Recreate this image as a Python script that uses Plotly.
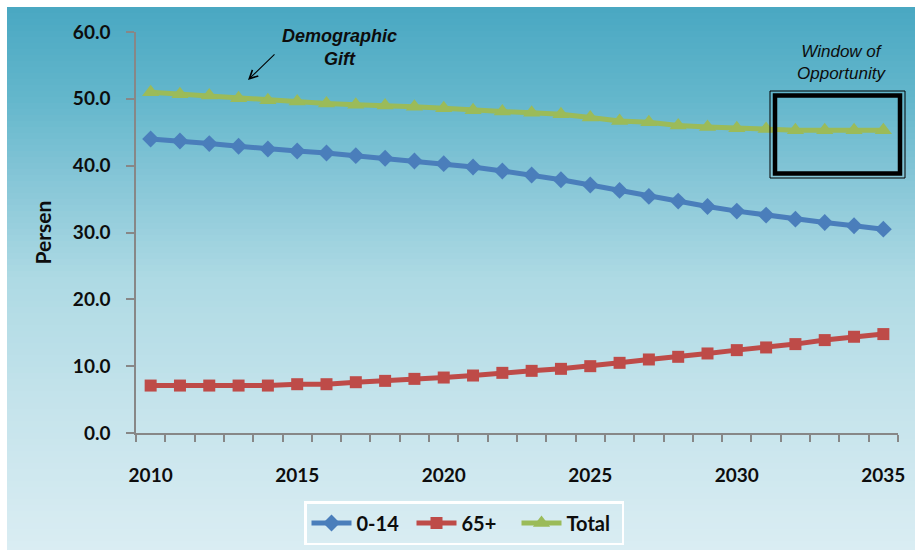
import plotly.graph_objects as go

# ---- data ------------------------------------------------------------------
years = list(range(2010, 2036))

age_0_14 = [44.0, 43.7, 43.3, 42.9, 42.5, 42.2, 41.9, 41.5, 41.1, 40.7, 40.3, 39.8, 39.2,
            38.6, 37.9, 37.1, 36.3, 35.4, 34.7, 33.9, 33.2, 32.6, 32.0, 31.5, 31.0, 30.5]
age_65_plus = [7.1, 7.1, 7.1, 7.1, 7.1, 7.3, 7.3, 7.6, 7.8, 8.1, 8.3, 8.6, 9.0,
               9.3, 9.6, 10.0, 10.5, 11.0, 11.4, 11.9, 12.4, 12.8, 13.3, 13.9, 14.4, 14.8]
total = [51.0, 50.7, 50.5, 50.1, 49.8, 49.6, 49.3, 49.1, 49.0, 48.8, 48.6, 48.3, 48.1,
         47.9, 47.7, 47.2, 46.7, 46.5, 46.0, 45.8, 45.6, 45.5, 45.3, 45.3, 45.3, 45.3]

y_ticks = [0, 10, 20, 30, 40, 50, 60]
x_label_years = [2010, 2015, 2020, 2025, 2030, 2035]

# ---- layout geometry (pixels) ----------------------------------------------
W, H = 915, 550
L, R, T, B = 136, 898, 32, 433          # plot-area edges
PW, PH = R - L, B - T


def px(xp):
    return (xp - L) / PW


def py(yp):
    return (B - yp) / PH


FONT = "Lato"
TXT = "#0d0d0d"
AXIS = "#878787"

fig = go.Figure()

series = [
    ("0-14", age_0_14, "#4a7ebb", "diamond", 13),
    ("65+", age_65_plus, "#be4b48", "square", 12),
    ("Total", total, "#9bbb59", "triangle-up", 15),
]
for name, vals, col, sym, size in series:
    fig.add_trace(go.Scatter(
        x=years, y=vals, name=name, mode="lines+markers",
        line=dict(color=col, width=5),
        marker=dict(symbol=sym, size=size, color=col),
    ))

# ---- vertical gradient background over the whole chart area -----------------
stops = [  # (pixel y, rgb)
    (7, (73, 168, 194)),
    (100, (100, 183, 204)),
    (180, (134, 198, 215)),
    (280, (174, 218, 228)),
    (400, (196, 227, 235)),
    (550, (218, 237, 243)),
]


def colour_at(yp):
    for (y0, c0), (y1, c1) in zip(stops[:-1], stops[1:]):
        if y0 <= yp <= y1:
            t = (yp - y0) / (y1 - y0)
            return tuple(round(a + (b - a) * t) for a, b in zip(c0, c1))
    return stops[-1][1]


shapes = []
band = 6
y = 7
while y < H:
    y2 = min(y + band, H)
    r, g, b = colour_at((y + y2) / 2)
    shapes.append(dict(
        type="rect", xref="paper", yref="paper", layer="below",
        x0=px(7), x1=px(W), y0=py(y2 + 0.5), y1=py(y),
        fillcolor=f"rgb({r},{g},{b})", line=dict(width=0),
    ))
    y = y2

# ---- "Window of Opportunity" double frame -----------------------------------
shapes.append(dict(type="rect", xref="paper", yref="paper",
                   x0=px(770), x1=px(905), y0=py(178), y1=py(91),
                   line=dict(color="black", width=1)))
shapes.append(dict(type="rect", xref="paper", yref="paper",
                   x0=px(775), x1=px(900), y0=py(173.5), y1=py(95.5),
                   line=dict(color="black", width=4.5)))

annotations = [
    dict(xref="paper", yref="paper", x=px(339), y=py(47), showarrow=False,
         xanchor="center", yanchor="middle",
         text="Demographic<br>Gift", align="center",
         font=dict(family="Liberation Sans", size=18, color=TXT, weight="bold", style="italic")),
    dict(xref="paper", yref="paper", x=px(248), y=py(80), ax=28, ay=-27,
         text="", showarrow=True, arrowhead=5, arrowsize=1.5, arrowwidth=1.1,
         arrowcolor="black"),
    dict(xref="paper", yref="paper", x=px(841), y=py(62), showarrow=False,
         xanchor="center", yanchor="middle",
         text="Window of<br>Opportunity", align="center",
         font=dict(family="Liberation Sans", size=17, color=TXT, style="italic")),
]

fig.update_layout(
    width=W, height=H,
    margin=dict(l=L, r=W - R, t=T, b=H - B, pad=0, autoexpand=False),
    paper_bgcolor="white",
    plot_bgcolor="rgba(0,0,0,0)",
    shapes=shapes,
    annotations=annotations,
    showlegend=True,
    legend=dict(
        orientation="h", xref="paper", yref="paper",
        x=px(464), y=py(523), xanchor="center", yanchor="middle",
        bgcolor="rgba(0,0,0,0)", bordercolor="white", borderwidth=2.5,
        font=dict(family=FONT, size=20, color=TXT, weight="bold"),
        itemwidth=40, entrywidth=50, entrywidthmode="pixels",
    ),
    xaxis=dict(
        range=[2009.5, 2035.5], showgrid=False, zeroline=False,
        showline=True, linecolor=AXIS, linewidth=1.5,
        tickmode="array", tickvals=x_label_years,
        ticktext=[str(v) for v in x_label_years], ticks="",
        ticklabelstandoff=24,
        tickfont=dict(family=FONT, size=19, color=TXT, weight="bold"),
        minor=dict(tickvals=[v - 0.5 for v in years] + [years[-1] + 0.5],
                   ticks="outside", ticklen=7, tickcolor=AXIS, tickwidth=1.5,
                   showgrid=False),
    ),
    yaxis=dict(
        range=[0, 60], showgrid=False, zeroline=False,
        showline=True, linecolor=AXIS, linewidth=1.5,
        tickmode="array", tickvals=y_ticks, tickformat=".1f",
        ticks="outside", ticklen=8, tickcolor=AXIS, tickwidth=1.5,
        ticklabelstandoff=12,
        tickfont=dict(family=FONT, size=19, color=TXT, weight="bold"),
        title=dict(text="Persen", standoff=16,
                   font=dict(family=FONT, size=21, color=TXT, weight="bold")),
    ),
)

fig.write_html("out.html")
